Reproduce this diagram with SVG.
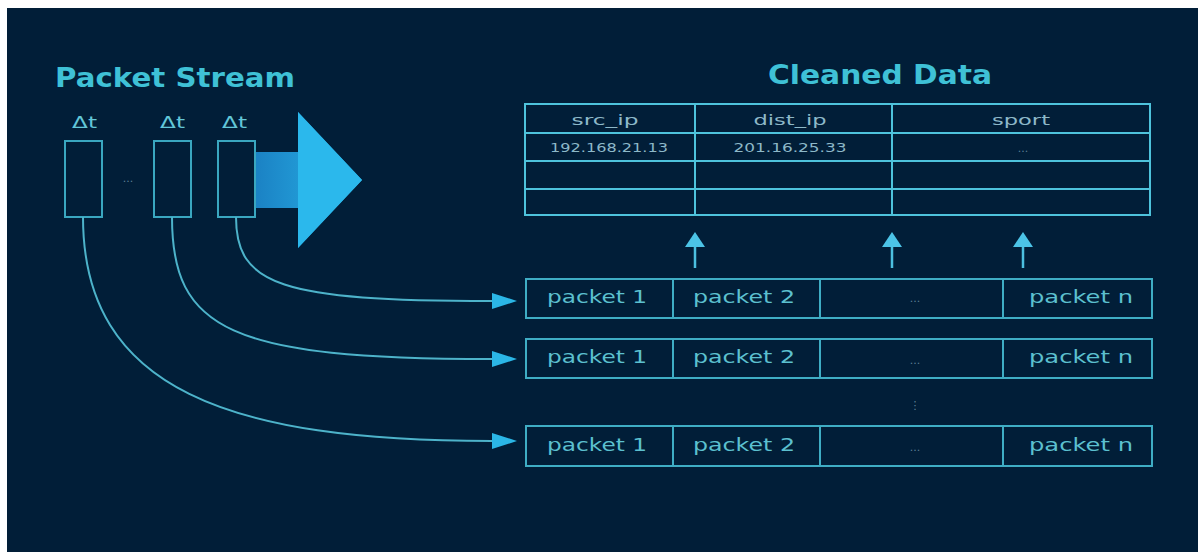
<svg xmlns="http://www.w3.org/2000/svg" width="1198" height="552" viewBox="0 0 1198 552">
<defs>
<style>
.title{font-family:"DejaVu Sans",sans-serif;font-weight:bold;font-size:26px;fill:#3fc1d6}
.dt{font-family:"DejaVu Sans",sans-serif;font-size:15px;fill:#62c6d8}
.hdr{font-family:"DejaVu Sans",sans-serif;font-size:14px;fill:#8db8c8;text-anchor:middle}
.cell{font-family:"DejaVu Sans",sans-serif;font-size:12px;fill:#8db8c8;text-anchor:middle}
.pk{font-family:"DejaVu Sans",sans-serif;font-size:18px;fill:#5cc0cf;text-anchor:middle}
.dim{font-family:"DejaVu Sans",sans-serif;font-size:11px;fill:#5f7f96;text-anchor:middle}
.tline{stroke:#4ec3dc;stroke-width:2;fill:none}
.pline{stroke:#3fadc4;stroke-width:2;fill:none}
.box{stroke:#3aa7c0;stroke-width:2;fill:#011e38}
.conn{stroke:#4db3ca;stroke-width:2;fill:none}
.up{stroke:#4cc0e0;stroke-width:2.5;fill:none}
</style>
<linearGradient id="shaft" x1="0" y1="0" x2="1" y2="0">
<stop offset="0" stop-color="#1a7fc2"/>
<stop offset="1" stop-color="#2ab6ea"/>
</linearGradient>
<marker id="ah" viewBox="0 0 25 16" refX="0" refY="8" markerWidth="25" markerHeight="16" markerUnits="userSpaceOnUse" orient="auto">
<path d="M0,0 L25,8 L0,16 z" fill="#2bb6e6"/>
</marker>
<marker id="uh" viewBox="0 0 15 20" refX="0" refY="10" markerWidth="15" markerHeight="20" markerUnits="userSpaceOnUse" orient="auto">
<path d="M0,0 L15,10 L0,20 z" fill="#4cc3e6"/>
</marker>
</defs>
<rect x="0" y="0" width="1198" height="552" fill="#ffffff"/>
<rect x="7" y="8" width="1191" height="544" fill="#011e38"/>

<text class="title" x="55" y="87" textLength="240" lengthAdjust="spacingAndGlyphs">Packet Stream</text>
<text class="title" x="768" y="84" textLength="224" lengthAdjust="spacingAndGlyphs">Cleaned Data</text>

<g id="big-arrow">
<path d="M250,152 L298,152 L298,112 L362,180 L298,248 L298,208 L250,208 z" fill="url(#shaft)"/>
<path d="M298,112 L362,180 L298,248 z" fill="#2bb8ec"/>
</g>

<g id="stream">
<g id="packet-window-1">
<text class="dt" x="72" y="128" textLength="25" lengthAdjust="spacingAndGlyphs">Δt</text>
<rect class="box" x="65" y="141" width="37" height="76"/>
</g>
<text class="dim" x="128" y="182">...</text>
<g id="packet-window-2">
<text class="dt" x="160" y="128" textLength="25" lengthAdjust="spacingAndGlyphs">Δt</text>
<rect class="box" x="154" y="141" width="37" height="76"/>
</g>
<g id="packet-window-3">
<text class="dt" x="222" y="128" textLength="25" lengthAdjust="spacingAndGlyphs">Δt</text>
<rect class="box" x="218" y="141" width="37" height="76"/>
</g>
</g>

<g id="cleaned-table">
<rect class="tline" x="525" y="104" width="625" height="111"/>
<line class="tline" x1="525" y1="133" x2="1150" y2="133"/>
<line class="tline" x1="525" y1="161" x2="1150" y2="161"/>
<line class="tline" x1="525" y1="189" x2="1150" y2="189"/>
<line class="tline" x1="695" y1="104" x2="695" y2="215"/>
<line class="tline" x1="892" y1="104" x2="892" y2="215"/>
<text class="hdr" x="605" y="125" textLength="67" lengthAdjust="spacingAndGlyphs">src_ip</text>
<text class="hdr" x="790" y="125" textLength="73" lengthAdjust="spacingAndGlyphs">dist_ip</text>
<text class="hdr" x="1021" y="125" textLength="58" lengthAdjust="spacingAndGlyphs">sport</text>
<text class="cell" x="609" y="152" textLength="118" lengthAdjust="spacingAndGlyphs">192.168.21.13</text>
<text class="cell" x="790" y="152" textLength="113" lengthAdjust="spacingAndGlyphs">201.16.25.33</text>
<text class="dim" x="1023" y="152">...</text>
</g>

<g id="packet-row-1">
<rect class="pline" x="526" y="279" width="626" height="39"/>
<line class="pline" x1="673" y1="279" x2="673" y2="318"/>
<line class="pline" x1="820" y1="279" x2="820" y2="318"/>
<line class="pline" x1="1003" y1="279" x2="1003" y2="318"/>
<text class="pk" x="597" y="303" textLength="100" lengthAdjust="spacingAndGlyphs">packet 1</text>
<text class="pk" x="744" y="303" textLength="102" lengthAdjust="spacingAndGlyphs">packet 2</text>
<text class="dim" x="915" y="302">...</text>
<text class="pk" x="1081" y="303" textLength="104" lengthAdjust="spacingAndGlyphs">packet n</text>
</g>
<g id="packet-row-2">
<rect class="pline" x="526" y="339" width="626" height="39"/>
<line class="pline" x1="673" y1="339" x2="673" y2="378"/>
<line class="pline" x1="820" y1="339" x2="820" y2="378"/>
<line class="pline" x1="1003" y1="339" x2="1003" y2="378"/>
<text class="pk" x="597" y="363" textLength="100" lengthAdjust="spacingAndGlyphs">packet 1</text>
<text class="pk" x="744" y="363" textLength="102" lengthAdjust="spacingAndGlyphs">packet 2</text>
<text class="dim" x="915" y="364">...</text>
<text class="pk" x="1081" y="363" textLength="104" lengthAdjust="spacingAndGlyphs">packet n</text>
</g>
<text class="dim" x="915" y="409">⋮</text>
<g id="packet-row-n">
<rect class="pline" x="526" y="426" width="626" height="40"/>
<line class="pline" x1="673" y1="426" x2="673" y2="466"/>
<line class="pline" x1="820" y1="426" x2="820" y2="466"/>
<line class="pline" x1="1003" y1="426" x2="1003" y2="466"/>
<text class="pk" x="597" y="451" textLength="100" lengthAdjust="spacingAndGlyphs">packet 1</text>
<text class="pk" x="744" y="451" textLength="102" lengthAdjust="spacingAndGlyphs">packet 2</text>
<text class="dim" x="915" y="451">...</text>
<text class="pk" x="1081" y="451" textLength="104" lengthAdjust="spacingAndGlyphs">packet n</text>
</g>

<g id="connectors">
<path class="conn" d="M236,217 C236,285 280,301 492,301" marker-end="url(#ah)"/>
<path class="conn" d="M172,217 C172,330 230,359 492,359" marker-end="url(#ah)"/>
<path class="conn" d="M83,217 C83,390 230,441 492,441" marker-end="url(#ah)"/>
<path class="up" d="M695,268 L695,247" marker-end="url(#uh)"/>
<path class="up" d="M892,268 L892,247" marker-end="url(#uh)"/>
<path class="up" d="M1023,268 L1023,247" marker-end="url(#uh)"/>
</g>
</svg>
